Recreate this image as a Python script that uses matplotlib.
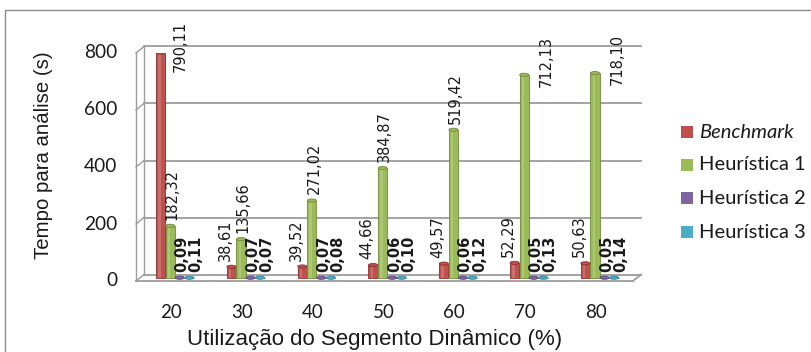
import matplotlib
matplotlib.use("Agg")
import matplotlib.pyplot as plt
import numpy as np
from matplotlib.patches import Rectangle, Ellipse
from matplotlib.transforms import ScaledTranslation

categorias = ["20", "30", "40", "50", "60", "70", "80"]
series = ["Benchmark", "Heurística 1", "Heurística 2", "Heurística 3"]
benchmark = [790.11, 38.61, 39.52, 44.66, 49.57, 52.29, 50.63]
heur1 = [182.32, 135.66, 271.02, 384.87, 519.42, 712.13, 718.10]
heur2 = [0.09, 0.07, 0.07, 0.06, 0.06, 0.05, 0.05]
heur3 = [0.11, 0.07, 0.08, 0.10, 0.12, 0.13, 0.14]
yticks = [0, 200, 400, 600, 800]

cores = ["#C0504D", "#9BBB59", "#8064A2", "#4BACC6"]
bordas = ["#8C2E2B", "#6F8A39", "#5A4378", "#2F7F95"]
cinza = "#9c9c9c"
texto = "#1a1a1a"

def fmt(v):
    return ("%.2f" % v).replace(".", ",")

fig = plt.figure(figsize=(8.12, 3.52), dpi=100)
fig.patches.append(Rectangle((5 / 812, -0.1), 1.2, 1 - 10 / 352 + 0.1,
                             transform=fig.transFigure, fill=False,
                             edgecolor="#8a8a8a", lw=1.0))

# plano frontal do gráfico
ax = fig.add_axes([136 / 812, (352 - 281) / 352, 497 / 812, 228 / 352])
ax.set_xlim(-0.494, 6.526)
ax.set_ylim(0, 800)
for s in ax.spines.values():
    s.set_visible(False)
ax.set_xticks([])
ax.set_yticks([])
ax.patch.set_visible(False)

# profundidade 3D: parede do fundo e meio
px = 70.8
dxp, dyp = 8, 6.5
fundo = ax.transData + ScaledTranslation(dxp / 100, dyp / 100, fig.dpi_scale_trans)
meio = ax.transData + ScaledTranslation(dxp / 200, dyp / 200, fig.dpi_scale_trans)
x0, x1 = ax.get_xlim()
dx = dxp / px
dy = dyp / 228 * 800
for y in yticks:
    ax.plot([x0, x1], [y, y], color=cinza, lw=1.3, transform=fundo, zorder=1,
            clip_on=False)
    ax.plot([x0, x0 + dx], [y, y + dy], color=cinza, lw=1.0, zorder=1,
            clip_on=False)
ax.plot([x0, x0], [0, 800], color=cinza, lw=1.0, clip_on=False)
ax.plot([x0, x0], [0, 800], color=cinza, lw=1.0, transform=fundo, clip_on=False)
ax.plot([x0, x1], [0, 0], color=cinza, lw=1.3, clip_on=False)
ax.plot([x1, x1 + dx], [0, dy], color=cinza, lw=1.3, clip_on=False)

x = np.arange(len(categorias))
w = 0.135
dados = [benchmark, heur1, heur2, heur3]
for i, vals in enumerate(dados):
    pos = x + (i - 1.5) * w
    ax.bar(pos, vals, width=w * 0.95, color=cores[i], edgecolor=bordas[i],
           lw=0.6, transform=meio, zorder=3)
    # brilho do cilindro
    ax.bar(pos - w * 0.12, vals, width=w * 0.25, color="white", alpha=0.18,
           lw=0, transform=meio, zorder=3)
    for p, v in zip(pos, vals):
        ax.add_patch(Ellipse((p, v), w * 0.95, 11, facecolor=cores[i],
                             edgecolor=bordas[i], lw=0.6, transform=meio,
                             zorder=4))

rot = dict(rotation=90, fontsize=10.5, family="DejaVu Sans", color=texto,
           ha="center", va="bottom", zorder=5, clip_on=False)
for j in range(len(categorias)):
    vb = benchmark[j]
    if vb > 750:
        ax.text(x[j] + 0.127, vb - 57, fmt(vb), **rot)
    else:
        ax.text(x[j] - 0.23, vb + 32, fmt(vb), **rot)
    vh = heur1[j]
    if vh > 700:
        ax.text(x[j] + 0.3, vh - 30, fmt(vh), **rot)
    else:
        ax.text(x[j] + 0.02, vh + 33, fmt(vh), **rot)
    ax.text(x[j] + 0.155, 32, fmt(heur2[j]), fontweight="bold", **rot)
    ax.text(x[j] + 0.355, 32, fmt(heur3[j]), fontweight="bold", **rot)

for j, c in enumerate(categorias):
    ax.text(x[j], -109, c, ha="center", va="center", fontsize=13.5,
            family="Lato", color=texto, clip_on=False)
for y in yticks:
    ax.text(x0 - 19 / px, y, str(y), ha="right", va="center", fontsize=13.8,
            family="Lato", color=texto)

fig.text(375 / 812, 1 - 340 / 352, "Utilização do Segmento Dinâmico (%)",
         ha="center", va="center", fontsize=16, family="Liberation Sans",
         color=texto)
fig.text(44 / 812, 1 - 155 / 352, "Tempo para análise (s)", rotation=90,
         ha="center", va="center", fontsize=14.7, family="Liberation Sans",
         color=texto)

# legenda
ly = [132, 165, 198, 232]
for i, nome in enumerate(series):
    fig.patches.append(Rectangle((681 / 812, 1 - (ly[i] + 6) / 352), 12 / 812,
                                 12 / 352, transform=fig.transFigure,
                                 facecolor=cores[i], edgecolor="none"))
    fig.text(699 / 812, 1 - ly[i] / 352, nome, ha="left", va="center",
             fontsize=14.5, family="Lato", color=texto,
             style="italic" if i == 0 else "normal")

fig.savefig("out.png", dpi=100)
